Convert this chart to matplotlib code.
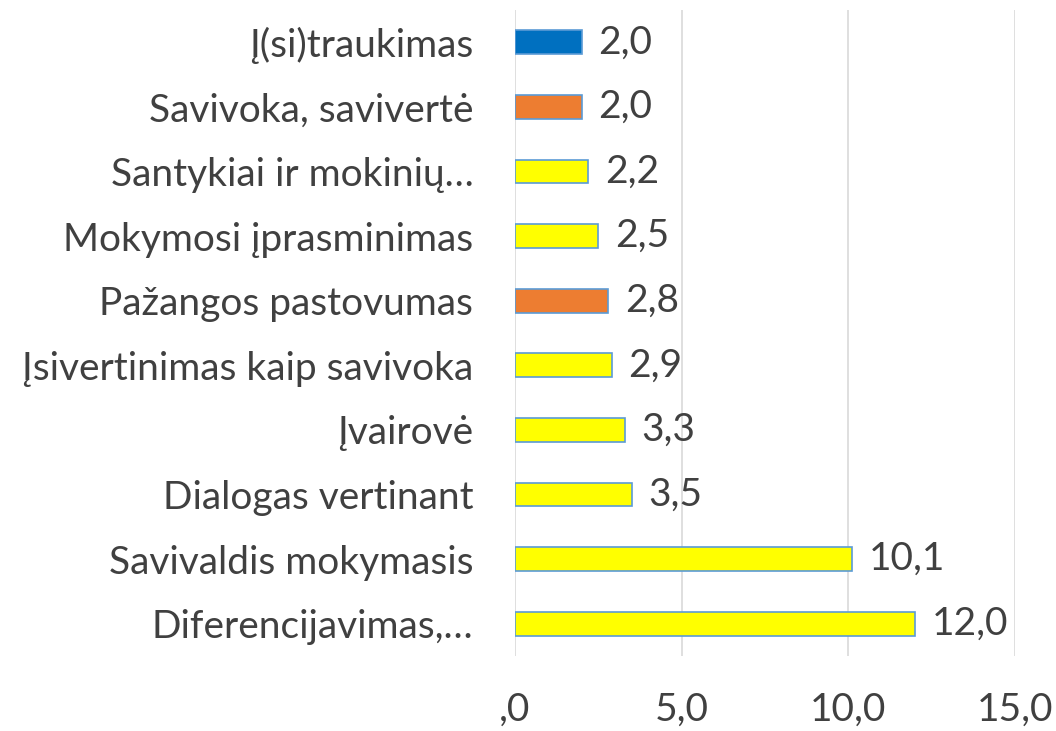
import matplotlib.pyplot as plt
import numpy as np

categories = ["Į(si)traukimas", "Savivoka, savivertė", "Santykiai ir mokinių…",
              "Mokymosi įprasminimas", "Pažangos pastovumas", "Įsivertinimas kaip savivoka",
              "Įvairovė", "Dialogas vertinant", "Savivaldis mokymasis", "Diferencijavimas,…"]
values = [2.0, 2.0, 2.2, 2.5, 2.8, 2.9, 3.3, 3.5, 10.1, 12.0]
colors = ["#0070C0", "#ED7D31", "#FFFF00", "#FFFF00", "#ED7D31", "#FFFF00",
          "#FFFF00", "#FFFF00", "#FFFF00", "#FFFF00"]
xticks = [0, 5, 10, 15]
xtick_labels = [",0", "5,0", "10,0", "15,0"]

plt.rcParams['font.family'] = ['Lato', 'DejaVu Sans']
text_color = "#404040"
fs = 28

fig = plt.figure(figsize=(10.56, 7.31), dpi=100)
ax = fig.add_axes([515 / 1056, 1 - 656 / 731, 500 / 1056, 646 / 731])

y = np.arange(len(categories))
ax.barh(y, values, height=0.37, color=colors, edgecolor="#5B9BD5", linewidth=1.2, zorder=3)

for yi, v in zip(y, values):
    ax.text(v + 0.5, yi, f"{v:.1f}".replace(".", ","), va="center", ha="left",
            fontsize=fs, color=text_color)

ax.set_xlim(0, 15)
ax.set_ylim(len(categories) - 0.5, -0.5)
ax.set_yticks(y)
ax.set_yticklabels(categories, fontsize=fs, color=text_color)
ax.set_xticks(xticks)
ax.set_xticklabels(xtick_labels, fontsize=fs, color=text_color)
ax.tick_params(axis="both", length=0)
ax.tick_params(axis="y", pad=30)
ax.tick_params(axis="x", pad=26)
ax.grid(axis="x", color="#D9D9D9", linewidth=1.2, zorder=0)
for s in ax.spines.values():
    s.set_visible(False)

fig.savefig("out.png", dpi=100)
